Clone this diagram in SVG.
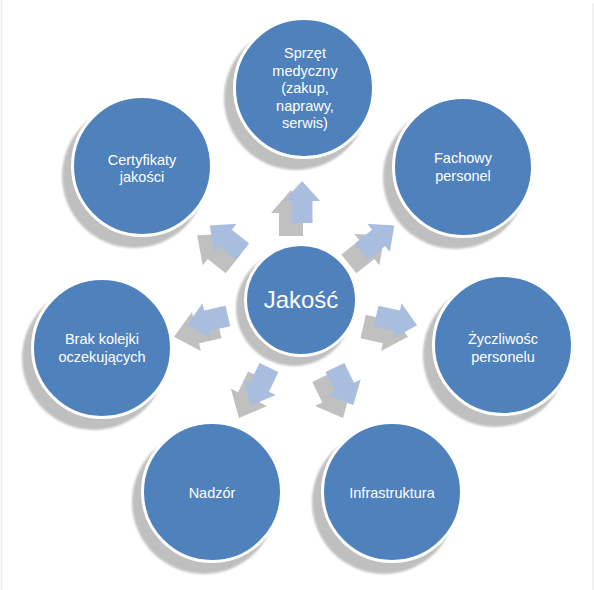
<svg xmlns="http://www.w3.org/2000/svg" xmlns:xlink="http://www.w3.org/1999/xlink" width="594" height="590" viewBox="0 0 594 590">
<style>
.sh{fill:#bfbfbf;filter:url(#soft)}
.cir{fill:#4f81bd;stroke:#ffffff;stroke-width:3}
.lbl{fill:#ffffff;font-family:"Liberation Sans","DejaVu Sans",sans-serif;font-size:14.5px;text-anchor:middle}
.big{fill:#ffffff;font-family:"Liberation Sans","DejaVu Sans",sans-serif;font-size:24px;text-anchor:middle}
.arr{fill:#a9bedf}
.arrsh{fill:#c0c0c0}
.frame{stroke:#ececec;stroke-width:1.5}
</style>
<defs>
<filter id="soft" x="-20%" y="-20%" width="140%" height="140%"><feGaussianBlur stdDeviation="1"/></filter>
<path id="ar" d="M0,-118 L18,-98 L10.5,-98 L10.5,-76 L-10.5,-76 L-10.5,-98 L-18,-98 Z"/>
<path id="arS" d="M0,-120 L20,-97 L12,-97 L12,-74 L-12,-74 L-12,-97 L-20,-97 Z"/>
</defs>
<rect width="594" height="590" fill="#ffffff"/>
<line class="frame" x1="1.5" y1="0" x2="1.5" y2="590"/>
<line class="frame" x1="593" y1="3" x2="593" y2="590"/>

<g id="connectors">
<g class="arrsh">
<use xlink:href="#arS" transform="translate(291,310) rotate(0)"/>
<use xlink:href="#arS" transform="translate(291,310) rotate(51.43)"/>
<use xlink:href="#arS" transform="translate(291,310) rotate(102.86)"/>
<use xlink:href="#arS" transform="translate(291,310) rotate(154.29)"/>
<use xlink:href="#arS" transform="translate(291,310) rotate(205.71)"/>
<use xlink:href="#arS" transform="translate(291,310) rotate(257.14)"/>
<use xlink:href="#arS" transform="translate(291,310) rotate(308.57)"/>
</g>
<g class="arr">
<use xlink:href="#ar" transform="translate(302,299) rotate(0)"/>
<use xlink:href="#ar" transform="translate(302,299) rotate(51.43)"/>
<use xlink:href="#ar" transform="translate(302,299) rotate(102.86)"/>
<use xlink:href="#ar" transform="translate(302,299) rotate(154.29)"/>
<use xlink:href="#ar" transform="translate(302,299) rotate(205.71)"/>
<use xlink:href="#ar" transform="translate(302,299) rotate(257.14)"/>
<use xlink:href="#ar" transform="translate(302,299) rotate(308.57)"/>
</g>
</g>

<g id="node-center">
<circle class="sh" cx="294" cy="308" r="58"/>
<circle class="cir" cx="301" cy="300" r="55.5"/>
<text class="big" x="301" y="308">Jakość</text>
</g>

<g id="node-sprzet">
<circle class="sh" cx="296" cy="98" r="72"/>
<circle class="cir" cx="304" cy="88" r="69.5"/>
<text class="lbl" x="305" y="58">Sprzęt</text>
<text class="lbl" x="305" y="75.5">medyczny</text>
<text class="lbl" x="305" y="93">(zakup,</text>
<text class="lbl" x="305" y="110.5">naprawy,</text>
<text class="lbl" x="305" y="128">serwis)</text>
</g>

<g id="node-fachowy">
<circle class="sh" cx="455" cy="177" r="72"/>
<circle class="cir" cx="463" cy="167" r="69.5"/>
<text class="lbl" x="463" y="163">Fachowy</text>
<text class="lbl" x="463" y="181">personel</text>
</g>

<g id="node-zyczliwosc">
<circle class="sh" cx="495" cy="355" r="72"/>
<circle class="cir" cx="503" cy="345" r="69.5"/>
<text class="lbl" x="503" y="344">Życzliwośc</text>
<text class="lbl" x="503" y="362">personelu</text>
</g>

<g id="node-infrastruktura">
<circle class="sh" cx="384" cy="502" r="72"/>
<circle class="cir" cx="392" cy="492" r="69.5"/>
<text class="lbl" x="392" y="498">Infrastruktura</text>
</g>

<g id="node-nadzor">
<circle class="sh" cx="204" cy="502" r="72"/>
<circle class="cir" cx="212" cy="492" r="69.5"/>
<text class="lbl" x="212" y="498">Nadzór</text>
</g>

<g id="node-brak">
<circle class="sh" cx="94" cy="358" r="72"/>
<circle class="cir" cx="102" cy="348" r="69.5"/>
<text class="lbl" x="102" y="344">Brak kolejki</text>
<text class="lbl" x="102" y="362">oczekujących</text>
</g>

<g id="node-certyfikaty">
<circle class="sh" cx="134" cy="176" r="72"/>
<circle class="cir" cx="142" cy="166" r="69.5"/>
<text class="lbl" x="142" y="165">Certyfikaty</text>
<text class="lbl" x="142" y="182">jakości</text>
</g>
</svg>
